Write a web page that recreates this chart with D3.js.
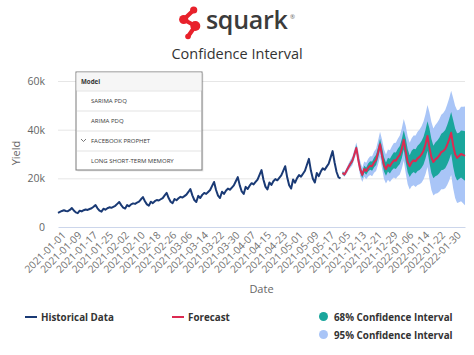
<!DOCTYPE html>
<html><head><meta charset="utf-8">
<script src="https://cdn.jsdelivr.net/npm/d3@7"></script>
<style>
body{margin:0;background:#fff;}
svg{display:block;font-family:"Open Sans",sans-serif;}
</style>
</head><body>
<svg id="c" width="474" height="355"></svg>
<script>
// ---------- data ----------
const histRange = ["2021-01-01", "2021-05-24"];
const forecastRange = ["2021-12-05", "2022-02-05"];
const tickLabels = ["2021-01-01","2021-01-09","2021-01-17","2021-01-25","2021-02-02","2021-02-10","2021-02-18","2021-02-26",
  "2021-03-06","2021-03-14","2021-03-22","2021-03-30","2021-04-07","2021-04-15","2021-04-23","2021-05-01","2021-05-09",
  "2021-05-17","2021-12-05","2021-12-13","2021-12-21","2021-12-29","2022-01-06","2022-01-14","2022-01-22","2022-01-30"];
const yTicks = [0, 20000, 40000, 60000];
const models = ["SARIMA PDQ", "ARIMA PDQ", "FACEBOOK PROPHET", "LONG SHORT-TERM MEMORY"];
const selectedModel = "FACEBOOK PROPHET";

// historical yield (thousands)
const historical = [
  5.8,6.2,6.6,6.9,6.6,6.5,7.0,7.8,6.8,6.0,5.7,6.7,6.4,6.9,7.2,7.0,7.4,7.7,8.3,9.0,
  7.7,6.7,6.3,7.5,7.1,7.7,8.1,7.9,8.3,8.7,9.5,10.3,9.0,8.0,7.6,9.0,8.5,9.3,9.7,9.5,
  10.0,10.4,11.4,12.3,10.6,9.3,8.8,10.4,9.8,10.6,11.1,10.9,11.4,11.9,13.0,14.0,11.9,10.4,9.8,11.5,
  11.0,11.8,12.4,12.1,12.7,13.3,14.4,15.6,13.0,11.1,10.3,12.8,11.9,13.2,14.0,13.6,14.4,15.2,16.9,18.5,
  15.2,12.9,11.9,14.5,13.6,14.9,15.8,15.3,16.2,17.1,18.8,20.5,17.1,14.6,13.6,16.5,15.6,17.0,18.0,17.5,
  18.5,19.5,21.4,23.4,19.4,16.6,15.4,18.3,17.3,18.8,19.7,19.2,20.2,21.2,23.1,25.0,20.4,17.2,15.8,19.5,
  18.2,20.1,21.3,20.7,21.9,23.1,25.6,28.0,23.2,19.8,18.3,22.2,20.9,22.8,24.1,23.5,24.8,26.0,28.6,31.2,
  26.5,22.6,20.4,20.0
];
// forecast (thousands)
const forecast = [
  22.2,21.6,23.0,24.6,26.0,27.2,29.8,32.5,27.5,23.6,21.4,23.8,23.0,24.4,25.2,25.0,26.6,27.6,30.6,34.0,
  29.4,25.4,23.8,25.6,25.0,26.4,27.4,27.2,28.6,29.6,32.2,35.8,31.0,26.8,25.0,26.6,27.4,27.0,28.2,28.8,
  29.8,31.4,34.0,37.4,32.6,28.6,26.7,27.8,28.4,29.4,30.8,31.2,32.0,33.8,36.0,38.7,33.6,30.0,28.4,29.2,
  30.0,29.6,29.2
];
const lower68 = [
  21.7,21.0,22.4,23.9,25.2,26.3,28.8,31.4,26.4,22.4,20.1,22.4,21.5,22.8,23.5,23.1,24.6,25.5,28.4,31.7,
  26.9,22.8,21.1,22.8,22.0,23.3,24.1,23.8,25.0,25.9,28.3,31.8,26.8,22.5,20.5,21.9,22.6,22.0,23.0,23.4,
  24.3,25.7,28.1,31.3,26.3,22.1,20.0,20.9,21.3,22.1,23.3,23.5,24.1,25.7,27.6,30.1,24.8,21.0,19.1,19.7,
  20.3,19.6,19.0
];
const upper68 = [
  22.7,22.2,23.7,25.3,26.8,28.1,30.8,33.6,29.6,25.4,22.7,25.2,24.5,26.1,27.0,26.9,28.6,29.7,32.8,36.3,
  32.8,28.8,26.5,28.5,28.0,29.5,30.7,30.6,32.2,33.3,36.1,39.8,36.5,32.0,29.5,31.3,32.2,32.0,33.4,34.2,
  35.3,37.1,39.9,43.5,40.5,36.2,33.4,34.7,35.5,36.7,38.3,38.9,39.9,41.9,44.4,47.3,44.0,40.5,38.5,38.7,
  39.7,39.6,39.4
];
const lower95 = [
  21.4,20.6,21.8,23.2,24.4,25.4,27.8,30.3,25.1,20.9,18.5,20.7,19.6,20.8,21.4,20.9,22.3,23.0,25.7,28.9,
  24.0,19.7,17.9,19.4,18.5,19.6,20.3,19.8,20.9,21.6,23.9,27.2,22.1,17.6,15.4,16.7,17.2,16.4,17.3,17.6,
  18.2,19.5,21.7,24.7,19.6,15.2,12.9,13.7,13.9,14.5,15.5,15.5,15.9,17.3,19.1,21.4,15.9,11.9,9.9,10.2,
  10.6,9.8,8.9
];
const upper95 = [
  23.0,22.6,24.2,26.0,27.6,29.0,31.8,34.7,31.2,27.0,24.3,26.9,26.4,28.0,29.1,29.1,31.0,32.2,35.5,39.1,
  36.0,32.0,29.8,31.8,31.5,33.2,34.5,34.6,36.3,37.6,40.5,44.4,41.5,37.2,34.6,36.5,37.6,37.6,39.1,40.1,
  41.4,43.4,46.3,50.1,47.2,43.2,40.5,41.9,42.9,44.3,46.1,46.9,48.1,50.3,52.9,56.0,53.0,49.8,48.0,48.2,
  49.4,49.4,49.5
];

// ---------- build ----------
const parse = d3.utcParse("%Y-%m-%d"), fmt = d3.utcFormat("%Y-%m-%d");
const dayRange = r => d3.utcDay.range(parse(r[0]), d3.utcDay.offset(parse(r[1]), 1)).map(fmt);
const histDates = dayRange(histRange);
const fcDates = dayRange(forecastRange);
const categories = histDates.concat(fcDates);
const K = 1000;
const histData = histDates.map((d, i) => ({d, v: historical[i] * K}));
const fcData = fcDates.map((d, i) => ({d, v: forecast[i] * K, l68: lower68[i] * K, u68: upper68[i] * K, l95: lower95[i] * K, u95: upper95[i] * K}));

const svg = d3.select("#c");
const L = 58, R = 465, T = 81, B = 227;
const x = d3.scalePoint().domain(categories).range([L, R]);
const y = d3.scaleLinear().domain([0, 60000]).range([B, T]);

// logo
const logo = svg.append("g");
const red = "#e8212b";
logo.append("path").attr("d", "M193.7,10 L183.7,19.5 L195.3,26 L188,36.5")
  .attr("fill", "none").attr("stroke", red).attr("stroke-width", 4.2).attr("stroke-linecap", "round").attr("stroke-linejoin", "round");
[[193.7,10,3.6],[183.7,19.5,4.6],[195.3,26,5],[188,36.5,2.8]].forEach(c =>
  logo.append("circle").attr("cx", c[0]).attr("cy", c[1]).attr("r", c[2]).attr("fill", red));
logo.append("text").attr("x", 206).attr("y", 29).attr("font-size", 25).attr("font-weight", 600)
  .attr("fill", "#3b3b3b").attr("letter-spacing", -0.3).text("squark");
logo.append("text").attr("x", 290).attr("y", 19).attr("font-size", 6).attr("fill", "#666").text("®");

// title
svg.append("text").attr("x", 237).attr("y", 59).attr("text-anchor", "middle")
  .attr("font-size", 14.5).attr("fill", "#333").text("Confidence Interval");

// grid
const gridG = svg.append("g").attr("transform", `translate(${L},0)`)
  .call(d3.axisLeft(y).tickValues(yTicks.slice(1)).tickSize(-(R - L)).tickFormat(""));
gridG.select(".domain").remove();
gridG.selectAll("line").attr("stroke", "#e6e6e6").attr("stroke-width", 1);

// y labels
const yAx = svg.append("g").attr("transform", `translate(${L},0)`)
  .call(d3.axisLeft(y).tickValues(yTicks).tickSize(0).tickPadding(13)
    .tickFormat(d => d === 0 ? "0" : (d / 1000) + "k"));
yAx.select(".domain").remove();
yAx.selectAll("text").attr("font-family", "Open Sans, sans-serif").attr("font-size", 10.5).attr("fill", "#666");

svg.append("text").attr("transform", "translate(20,153) rotate(-90)").attr("text-anchor", "middle")
  .attr("font-size", 11).attr("fill", "#666").text("Yield");

// x axis
const xAx = svg.append("g").attr("transform", `translate(0,${B})`)
  .call(d3.axisBottom(x).tickValues(tickLabels).tickSize(0));
xAx.select(".domain").attr("stroke", "#ccd6eb");
xAx.selectAll("text").attr("font-family", "Open Sans, sans-serif").attr("font-size", 10.2).attr("fill", "#707070")
  .attr("text-anchor", "end").attr("dy", null).attr("y", 0)
  .attr("transform", "translate(8,9) rotate(-45)");

svg.append("text").attr("x", (L + R) / 2).attr("y", 293).attr("text-anchor", "middle")
  .attr("font-size", 11).attr("fill", "#666").text("Date");

// bands
const c95 = "#a9c5f7", c68 = "#1aa69c";
svg.append("path").datum(fcData).attr("fill", c95)
  .attr("d", d3.area().x(d => x(d.d)).y0(d => y(d.l95)).y1(d => y(d.u95)));
svg.append("path").datum(fcData).attr("fill", c68)
  .attr("d", d3.area().x(d => x(d.d)).y0(d => y(d.l68)).y1(d => y(d.u68)));

// lines
const line = d3.line().x(d => x(d.d)).y(d => y(d.v));
const cHist = "#1a3a75", cFc = "#dc2a52";
svg.append("path").datum(histData).attr("fill", "none").attr("stroke", cHist).attr("stroke-width", 2)
  .attr("stroke-linejoin", "round").attr("d", line);
svg.append("path").datum(fcData).attr("fill", "none").attr("stroke", cFc).attr("stroke-width", 2)
  .attr("stroke-linejoin", "round").attr("d", line);

// model dropdown
const box = svg.append("g");
const bx = 76, by = 72, bw = 126, bh = 98;
box.append("rect").attr("x", bx + 1.5).attr("y", by + 1.5).attr("width", bw).attr("height", bh).attr("fill", "#000").attr("opacity", 0.08);
box.append("rect").attr("x", bx).attr("y", by).attr("width", bw).attr("height", bh).attr("fill", "#fff").attr("stroke", "#7a7a7a").attr("stroke-width", 1);
box.append("rect").attr("x", bx + 0.5).attr("y", by + 0.5).attr("width", bw - 1).attr("height", 18).attr("fill", "#f6f6f6");
box.append("text").attr("x", bx + 5).attr("y", by + 12).attr("font-size", 6.2).attr("font-weight", 700).attr("fill", "#333").text("Model");
models.forEach((m, i) => {
  const yy = by + 19 + i * 20;
  box.append("line").attr("x1", bx + 1).attr("x2", bx + bw - 1).attr("y1", yy).attr("y2", yy).attr("stroke", "#e3e3e3");
  box.append("text").attr("x", bx + 15).attr("y", yy + 12).attr("font-size", 6).attr("fill", "#3a3a3a").text(m);
  if (m === selectedModel) {
    box.append("path").attr("d", `M${bx + 5},${yy + 8} L${bx + 7.5},${yy + 10.5} L${bx + 10},${yy + 8}`)
      .attr("fill", "none").attr("stroke", "#555").attr("stroke-width", 0.8);
  }
});

// legend
const leg = svg.append("g").attr("font-size", 9.8).attr("font-weight", 700).attr("fill", "#333");
leg.append("line").attr("x1", 25).attr("x2", 37).attr("y1", 317).attr("y2", 317).attr("stroke", cHist).attr("stroke-width", 2);
leg.append("text").attr("x", 41).attr("y", 320.5).text("Historical Data");
leg.append("line").attr("x1", 172).attr("x2", 184).attr("y1", 317).attr("y2", 317).attr("stroke", cFc).attr("stroke-width", 2);
leg.append("text").attr("x", 188).attr("y", 320.5).text("Forecast");
leg.append("circle").attr("cx", 323.5).attr("cy", 316.5).attr("r", 4.5).attr("fill", c68);
leg.append("text").attr("x", 334).attr("y", 320.5).text("68% Confidence Interval");
leg.append("circle").attr("cx", 323.5).attr("cy", 334.5).attr("r", 4.5).attr("fill", c95);
leg.append("text").attr("x", 334).attr("y", 338.5).text("95% Confidence Interval");
</script>
</body></html>
